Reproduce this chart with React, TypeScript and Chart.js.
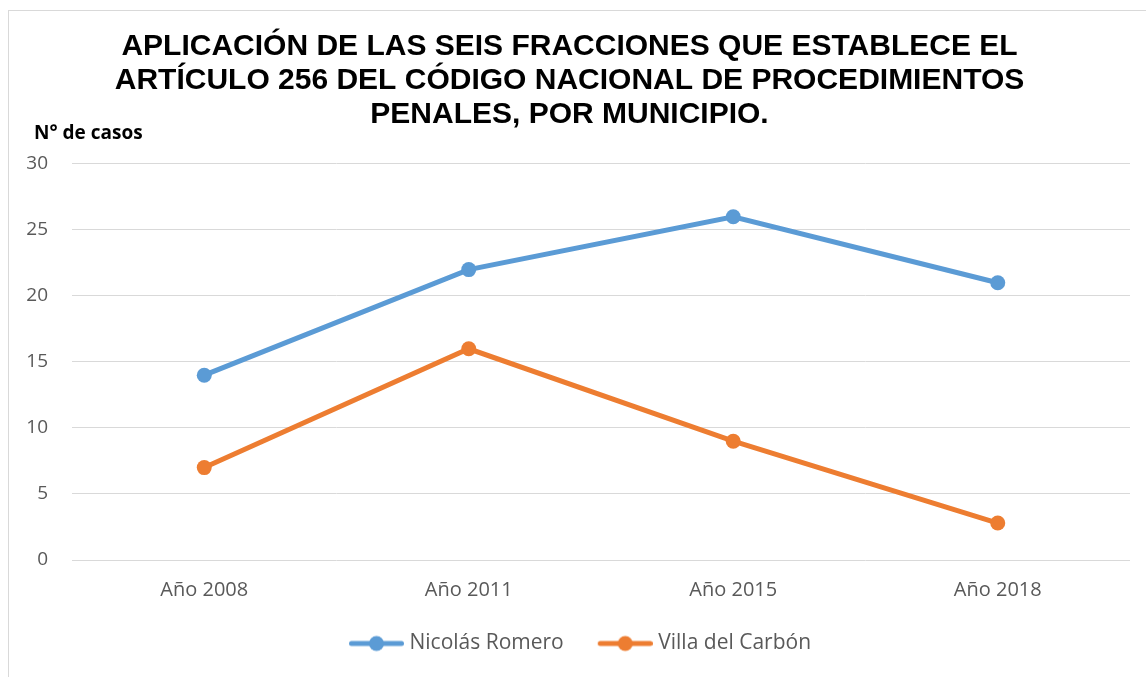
import React, { useEffect, useRef } from "react";
import { Chart, registerables } from "chart.js";

Chart.register(...registerables);

const categories = ["Año 2008", "Año 2011", "Año 2015", "Año 2018"];
const nicolasRomero = [14, 22, 26, 21];
const villaDelCarbon = [7, 16, 9, 2.8];
const titleLines = [
  "APLICACIÓN DE LAS SEIS FRACCIONES QUE ESTABLECE EL",
  "ARTÍCULO 256 DEL CÓDIGO NACIONAL DE PROCEDIMIENTOS",
  "PENALES, POR MUNICIPIO.",
];
const yAxisLabel = "N° de casos";

const BLUE = "#5b9bd5";
const ORANGE = "#ed7d31";
const TEXT = "#595959";
const FONT = "'Open Sans', sans-serif";

function legendIcon(color: string): HTMLCanvasElement {
  const c = document.createElement("canvas");
  c.width = 81;
  c.height = 18;
  const ctx = c.getContext("2d")!;
  ctx.strokeStyle = color;
  ctx.lineWidth = 5;
  ctx.lineCap = "round";
  ctx.beginPath();
  ctx.moveTo(28.5, 9);
  ctx.lineTo(78.5, 9);
  ctx.stroke();
  ctx.fillStyle = color;
  ctx.beginPath();
  ctx.arc(53.5, 9, 7.5, 0, Math.PI * 2);
  ctx.fill();
  return c;
}

const axisLabelPlugin = {
  id: "axisLabel",
  afterDraw(chart: any) {
    const { ctx, chartArea } = chart;
    ctx.save();
    ctx.font = `bold 19px ${FONT}`;
    ctx.fillStyle = "#000000";
    ctx.textAlign = "left";
    ctx.textBaseline = "alphabetic";
    ctx.fillText(yAxisLabel, 25, chartArea.top - 25);
    ctx.restore();
  },
};

export default function App() {
  const ref = useRef<HTMLCanvasElement>(null);
  useEffect(() => {
    if (!ref.current) return;
    const chart = new Chart(ref.current, {
      type: "line",
      data: {
        labels: categories,
        datasets: [
          {
            label: "Nicolás Romero",
            data: nicolasRomero,
            borderColor: BLUE,
            backgroundColor: BLUE,
            borderWidth: 5,
            pointRadius: 7.5,
            pointHoverRadius: 7.5,
            pointBorderWidth: 0,
          },
          {
            label: "Villa del Carbón",
            data: villaDelCarbon,
            borderColor: ORANGE,
            backgroundColor: ORANGE,
            borderWidth: 5,
            pointRadius: 7.5,
            pointHoverRadius: 7.5,
            pointBorderWidth: 0,
          },
        ],
      },
      options: {
        animation: false,
        responsive: true,
        maintainAspectRatio: false,
        layout: { padding: { left: 0, right: 16, top: 0, bottom: 0 } },
        plugins: {
          title: {
            display: true,
            text: titleLines,
            color: "#000000",
            font: { family: "'Liberation Sans', Arial, sans-serif", size: 30, weight: "bold", lineHeight: 1.133 },
            padding: { top: 19, bottom: 32 },
          },
          legend: {
            position: "bottom",
            labels: {
              usePointStyle: true,
              pointStyleWidth: 71,
              color: TEXT,
              font: { family: FONT, size: 21 },
              padding: 13,
              generateLabels: (chart: any) =>
                chart.data.datasets.map((ds: any, i: number) => ({
                  text: ds.label,
                  fillStyle: ds.borderColor,
                  strokeStyle: ds.borderColor,
                  fontColor: TEXT,
                  lineWidth: 0,
                  pointStyle: legendIcon(ds.borderColor),
                  hidden: false,
                  datasetIndex: i,
                })),
            },
          },
          tooltip: { enabled: false },
        },
        scales: {
          x: {
            offset: true,
            grid: { display: false, drawTicks: false },
            border: { display: false },
            ticks: { color: TEXT, font: { family: FONT, size: 20 }, padding: 18 },
          },
          y: {
            min: 0,
            max: 30,
            ticks: { stepSize: 5, color: TEXT, font: { family: FONT, size: 19 }, padding: 24 },
            grid: { color: "#d9d9d9", lineWidth: 1, drawTicks: false },
            border: { display: false },
            afterFit: (scale: any) => {
              scale.width = 63;
            },
          },
        },
      },
      plugins: [axisLabelPlugin],
    });
    return () => chart.destroy();
  }, []);

  return (
    <div
      style={{
        position: "absolute",
        left: 8,
        top: 10,
        width: 1138,
        height: 667,
        borderLeft: "1px solid #d9d9d9",
        borderTop: "1px solid #d9d9d9",
        boxSizing: "border-box",
        background: "#fff",
        overflow: "hidden",
      }}
    >
      <div style={{ position: "relative", width: 1137, height: 653 }}>
        <canvas ref={ref} />
      </div>
    </div>
  );
}
